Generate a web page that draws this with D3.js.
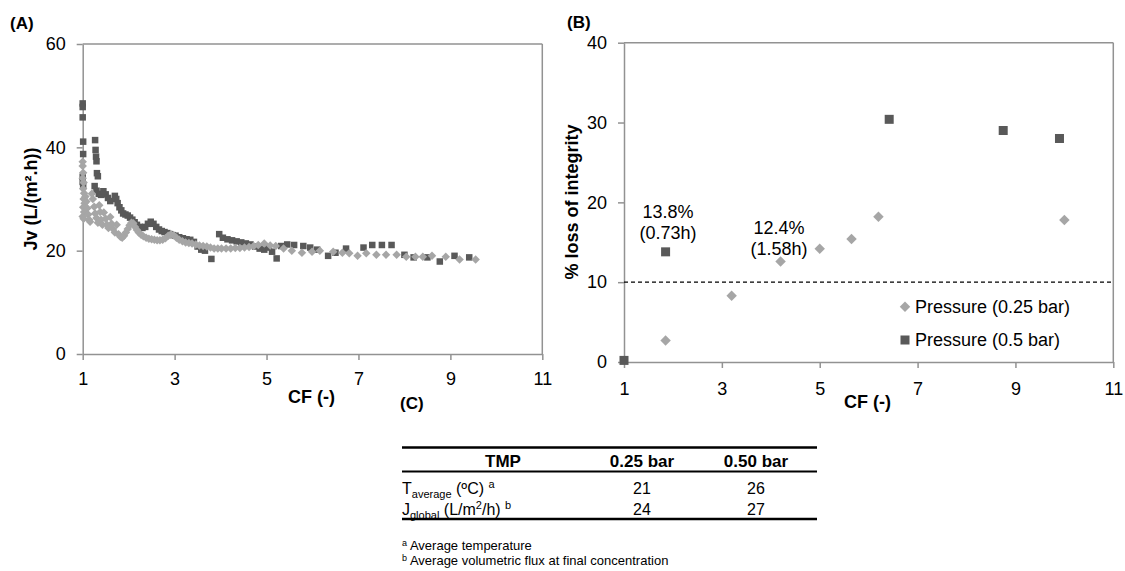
<!DOCTYPE html>
<html>
<head>
<meta charset="utf-8">
<script src="https://cdn.jsdelivr.net/npm/d3@7"></script>
<style>
  body { margin: 0; background: #fff; }
  text { font-family: Arial, "Liberation Sans", sans-serif; }
</style>
</head>
<body>
<div class="fig"></div>
<script>
// ---- data ----
const cfTicks = [1, 3, 5, 7, 9, 11];
const jvTicks = [0, 20, 40, 60];
const lossTicks = [0, 10, 20, 30, 40];

// (A) permeate flux vs CF, [CF, Jv]
const fluxLow = [ // 0.25 bar
  [1.00,37.2],[1.00,36.4],[1.01,35.1],[1.00,34.0],[1.02,33.2],[1.01,32.0],[1.03,31.1],[1.02,30.0],
  [1.04,29.2],[1.01,28.4],[1.03,27.5],[1.00,26.6],[1.02,26.2],[1.06,30.5],[1.08,29.5],[1.10,28.2],
  [1.12,27.0],[1.14,26.0],[1.16,25.6],[1.20,31.0],[1.22,30.0],[1.25,28.5],[1.27,27.2],[1.30,26.3],
  [1.33,25.4],[1.36,28.8],[1.38,27.5],[1.40,26.0],[1.43,25.0],[1.46,27.4],[1.50,26.2],[1.53,25.0],
  [1.56,24.4],[1.60,26.5],[1.63,25.2],[1.66,24.2],[1.70,23.5],[1.74,25.0],[1.78,23.2],[1.82,22.7],
  [1.86,22.5],[1.90,22.9],[1.94,23.5],[1.98,24.2],[2.02,24.9],[2.06,25.4],[2.10,25.3],[2.14,24.6],
  [2.18,24.0],[2.22,23.5],[2.27,23.1],[2.32,22.8],[2.38,22.5],[2.44,22.3],[2.50,22.2],[2.56,22.1],
  [2.62,22.0],[2.68,22.0],[2.74,22.1],[2.80,22.4],[2.86,22.9],[2.92,23.2],[2.98,23.0],[3.04,22.5],
  [3.10,22.1],[3.17,21.8],[3.24,21.6],[3.31,21.5],[3.38,21.4],[3.46,21.2],[3.54,21.0],[3.62,20.9],
  [3.70,20.8],[3.78,20.6],[3.86,20.4],[3.94,20.4],[4.02,20.4],[4.12,20.4],[4.22,20.4],[4.32,20.5],
  [4.42,20.5],[4.52,20.6],[4.62,20.7],[4.72,20.9],[4.82,21.1],[4.95,21.4],[5.08,21.0],[5.20,20.9],
  [5.37,20.4],[5.55,20.0],[5.77,19.6],[5.99,19.8],[6.16,20.0],[6.45,19.8],[6.65,19.6],[6.80,19.5],
  [6.98,19.0],[7.17,19.5],[7.39,19.2],[7.60,19.2],[7.83,19.2],[8.04,18.8],[8.24,18.8],[8.40,18.8],
  [8.60,19.0],[8.90,18.8],[9.20,18.3],[9.55,18.3]
];
const fluxHigh = [ // 0.5 bar
  [1.00,48.5],[1.00,47.8],[1.00,45.8],[1.01,41.1],[1.01,38.7],[1.00,34.3],[1.00,33.3],[1.01,32.6],
  [1.27,41.4],[1.28,39.5],[1.29,38.2],[1.30,37.3],[1.31,35.0],[1.33,34.4],[1.26,32.5],[1.30,31.6],
  [1.35,31.0],[1.40,30.8],[1.45,31.5],[1.50,30.9],[1.55,30.2],[1.60,29.6],[1.70,30.6],[1.73,30.0],
  [1.76,29.2],[1.80,28.4],[1.84,27.8],[1.88,27.2],[1.93,27.0],[1.98,26.8],[2.03,26.4],[2.08,26.0],
  [2.13,25.5],[2.18,25.0],[2.24,24.6],[2.30,24.4],[2.36,24.6],[2.42,25.2],[2.48,25.6],[2.54,25.2],
  [2.60,24.6],[2.66,24.1],[2.72,23.8],[2.78,23.6],[2.84,23.4],[2.90,23.2],[2.96,23.0],[3.02,22.9],
  [3.10,22.6],[3.18,22.4],[3.26,22.2],[3.34,22.1],[3.42,21.7],[3.50,20.8],[3.58,20.2],[3.66,20.0],
  [3.80,18.4],[3.97,23.2],[4.05,22.5],[4.15,22.2],[4.25,22.0],[4.35,21.8],[4.45,21.6],[4.55,21.4],
  [4.65,21.2],[4.75,20.8],[4.85,20.4],[4.95,20.2],[5.05,20.6],[5.12,19.8],[5.22,18.5],[5.32,20.9],
  [5.45,21.2],[5.60,21.1],[5.80,20.9],[5.95,20.6],[6.10,20.2],[6.34,19.0],[6.50,19.6],[6.73,20.4],
  [7.11,20.6],[7.30,21.1],[7.51,21.1],[7.72,21.1],[8.00,19.2],[8.20,18.7],[8.50,18.7],[8.77,17.9],
  [9.09,19.0],[9.41,18.7]
];

// (B) % loss of integrity vs CF, [CF, %]
const lossLow = [[1.85,2.7],[3.2,8.3],[4.2,12.6],[5.0,14.2],[5.65,15.4],[6.2,18.2],[10.0,17.8]];
const lossHigh = [[1.0,0.2],[1.85,13.8],[6.42,30.4],[8.75,29.0],[9.9,28.0]];
const lossLimit = 10;
const notes = [
  {cf: 1.9, loss: 18.8, lines: ['13.8%', '(0.73h)']},
  {cf: 4.17, loss: 16.9, lines: ['12.4%', '(1.58h)']}
];
const seriesNames = ['Pressure (0.25 bar)', 'Pressure (0.5 bar)'];

// (C) table
const tableHead = ['TMP', '0.25 bar', '0.50 bar'];
const tAverage = [21, 26];
const jGlobal = [24, 27];
const footnotes = [['a', ' Average temperature'], ['b', ' Average volumetric flux at final concentration']];

// ---- drawing ----
const dark = '#595959', light = '#a6a6a6', axisGray = '#929292';

const svg = d3.select('.fig').append('svg')
  .attr('width', 1125).attr('height', 571);

function frame(g, x, y, xt, yt, xPad) {
  const [x0, x1] = x.range(), [y0, y1] = y.range();
  g.append('g').attr('transform', `translate(0,${y0})`)
    .call(d3.axisBottom(x).tickValues(xt).tickSize(6).tickSizeOuter(0).tickPadding(xPad).tickFormat(d3.format('d')));
  g.append('g').attr('transform', `translate(${x0},0)`)
    .call(d3.axisLeft(y).tickValues(yt).tickSize(6).tickSizeOuter(0).tickPadding(11).tickFormat(d3.format('d')));
  g.append('line').attr('x1', x0).attr('x2', x1).attr('y1', y1).attr('y2', y1);
  g.append('line').attr('x1', x1).attr('x2', x1).attr('y1', y1).attr('y2', y0);
  g.selectAll('.domain, .tick line, g > line').attr('stroke', axisGray).attr('stroke-width', 1.5);
  g.selectAll('.tick text').attr('font-size', 18).attr('fill', '#000')
    .attr('font-family', 'Arial, "Liberation Sans", sans-serif');
}

function squares(g, data, x, y, s) {
  g.selectAll(null).data(data).enter().append('rect')
    .attr('x', d => x(d[0]) - s / 2).attr('y', d => y(d[1]) - s / 2)
    .attr('width', s).attr('height', s).attr('fill', dark);
}
function diamonds(g, data, x, y, s) {
  g.selectAll(null).data(data).enter().append('rect')
    .attr('x', -s / 2).attr('y', -s / 2).attr('width', s).attr('height', s)
    .attr('transform', d => `translate(${x(d[0])},${y(d[1])}) rotate(45)`)
    .attr('fill', light);
}

function yLabel(g, txt, cx, cy) {
  g.append('text').attr('transform', `translate(${cx},${cy}) rotate(-90)`)
    .attr('text-anchor', 'middle').attr('dy', '0.35em')
    .attr('font-size', 18).attr('font-weight', 'bold').text(txt);
}

// Panel A
const xA = d3.scaleLinear().domain([1, 11]).range([82.7, 542.3]);
const yA = d3.scaleLinear().domain([0, 60]).range([354, 44]);
const gA = svg.append('g');
frame(gA, xA, yA, cfTicks, jvTicks, 12);
squares(gA, fluxHigh, xA, yA, 6.5);
diamonds(gA, fluxLow, xA, yA, 6);
svg.append('text').attr('x', 10).attr('y', 29).attr('font-size', 17).attr('font-weight', 'bold').text('(A)');
yLabel(svg, 'Jv (L/(m².h))', 31, 199);
svg.append('text').attr('x', 288).attr('y', 403).attr('font-size', 18).attr('font-weight', 'bold').text('CF (-)');

// Panel B
const xB = d3.scaleLinear().domain([1, 11]).range([624, 1113.3]);
const yB = d3.scaleLinear().domain([0, 40]).range([362, 42.7]);
const gB = svg.append('g');
frame(gB, xB, yB, cfTicks, lossTicks, 14);
gB.append('line')
  .attr('x1', xB(1)).attr('x2', xB(11)).attr('y1', yB(lossLimit)).attr('y2', yB(lossLimit))
  .attr('stroke', '#000').attr('stroke-width', 1.2).attr('stroke-dasharray', '4,3');
diamonds(gB, lossLow, xB, yB, 7.4);
squares(gB, lossHigh, xB, yB, 9);
notes.forEach(n => {
  const t = gB.append('text').attr('text-anchor', 'middle').attr('font-size', 18);
  n.lines.forEach((l, i) => t.append('tspan').attr('x', xB(n.cf)).attr('y', yB(n.loss) + 6.5 + i * 21).text(l));
});
// legend
const leg = gB.append('g').attr('transform', 'translate(905,306.7)');
leg.append('rect').attr('x', -3.7).attr('y', -3.7).attr('width', 7.4).attr('height', 7.4)
  .attr('transform', 'rotate(45)').attr('fill', light);
leg.append('rect').attr('x', -4.5).attr('y', 33.3 - 4.5).attr('width', 9).attr('height', 9).attr('fill', dark);
seriesNames.forEach((s, i) => leg.append('text').attr('x', 10).attr('y', i * 33.3).attr('dy', '0.35em')
  .attr('font-size', 18).text(s));
svg.append('text').attr('x', 567).attr('y', 28).attr('font-size', 17).attr('font-weight', 'bold').text('(B)');
yLabel(svg, '% loss of integrity', 572, 202);
svg.append('text').attr('x', 844).attr('y', 408).attr('font-size', 18).attr('font-weight', 'bold').text('CF (-)');

// Panel C: table
const gC = svg.append('g');
const tx0 = 402, tx1 = 817, colX = [503, 642, 756];
gC.append('text').attr('x', 400).attr('y', 409).attr('font-size', 17).attr('font-weight', 'bold').text('(C)');
[[447.5, 2.5], [471.5, 2], [519, 2.5]].forEach(([y, w]) =>
  gC.append('line').attr('x1', tx0).attr('x2', tx1).attr('y1', y).attr('y2', y).attr('stroke', '#000').attr('stroke-width', w));
tableHead.forEach((h, i) => gC.append('text').attr('x', colX[i]).attr('y', 467).attr('text-anchor', 'middle')
  .attr('font-size', 17).attr('font-weight', 'bold').text(h));
const r1 = gC.append('text').attr('x', tx0).attr('y', 494).attr('font-size', 16);
r1.append('tspan').text('T');
r1.append('tspan').attr('font-size', 11).attr('dy', 4).text('average');
r1.append('tspan').attr('dy', -4).text(' (ºC) ');
r1.append('tspan').attr('font-size', 11).attr('dy', -6).text('a');
const r2 = gC.append('text').attr('x', tx0).attr('y', 515).attr('font-size', 16);
r2.append('tspan').text('J');
r2.append('tspan').attr('font-size', 11).attr('dy', 4).text('global');
r2.append('tspan').attr('dy', -4).text(' (L/m');
r2.append('tspan').attr('font-size', 11).attr('dy', -6).text('2');
r2.append('tspan').attr('dy', 6).text('/h) ');
r2.append('tspan').attr('font-size', 11).attr('dy', -6).text('b');
[tAverage, jGlobal].forEach((row, r) => row.forEach((v, i) =>
  gC.append('text').attr('x', colX[i + 1]).attr('y', 494 + r * 21).attr('text-anchor', 'middle')
    .attr('font-size', 16).text(v)));
footnotes.forEach(([m, t], i) => {
  const f = gC.append('text').attr('x', tx0).attr('y', 550 + i * 15).attr('font-size', 13);
  f.append('tspan').attr('font-size', 9).attr('dy', -4).text(m);
  f.append('tspan').attr('dy', 4).text(t);
});
</script>
</body>
</html>
